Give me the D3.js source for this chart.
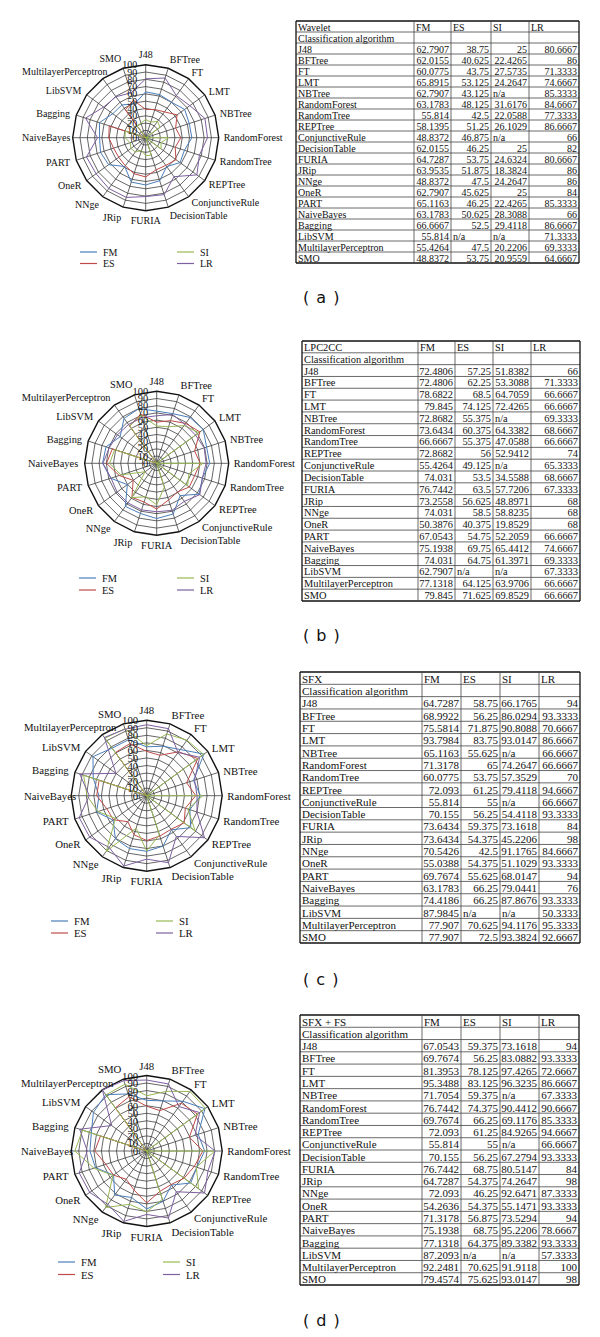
<!DOCTYPE html>
<html><head><meta charset="utf-8">
<script src="https://cdn.jsdelivr.net/npm/d3@7"></script>
<style>body{margin:0;background:#fff} svg{display:block}</style>
</head><body><svg id="chart" width="600" height="1337"></svg>
<script>
const categories = ["J48","BFTree","FT","LMT","NBTree","RandomForest","RandomTree","REPTree","ConjunctiveRule","DecisionTable","FURIA","JRip","NNge","OneR","PART","NaiveBayes","Bagging","LibSVM","MultilayerPerceptron","SMO"];
const seriesNames = ["FM","ES","SI","LR"];
const ringTicks = [0,10,20,30,40,50,60,70,80,90,100];
const tableTitles = ["Wavelet","LPC2CC","SFX","SFX + FS"];
const panelLabels = ["( a )","( b )","( c )","( d )"];
const rowHeader = "Classification algorithm";

const waveletFM = [62.7907,62.0155,60.0775,65.8915,62.7907,63.1783,55.814,58.1395,48.8372,62.0155,64.7287,63.9535,48.8372,62.7907,65.1163,63.1783,66.6667,55.814,55.4264,48.8372];
const waveletES = [38.75,40.625,43.75,53.125,43.125,48.125,42.5,51.25,46.875,46.25,53.75,51.875,47.5,45.625,46.25,50.625,52.5,null,47.5,53.75];
const waveletSI = [25,22.4265,27.5735,24.2647,null,31.6176,22.0588,26.1029,null,25,24.6324,18.3824,24.2647,25,22.4265,28.3088,29.4118,null,20.2206,20.9559];
const waveletLR = [80.6667,86,71.3333,74.6667,85.3333,84.6667,77.3333,86.6667,66,82,80.6667,86,86,84,85.3333,66,86.6667,71.3333,69.3333,64.6667];

const lpcFM = [72.4806,72.4806,78.6822,79.845,72.8682,73.6434,66.6667,72.8682,55.4264,74.031,76.7442,73.2558,74.031,50.3876,67.0543,75.1938,74.031,62.7907,77.1318,79.845];
const lpcES = [57.25,62.25,68.5,74.125,55.375,60.375,55.375,56,49.125,53.5,63.5,56.625,58.5,40.375,54.75,69.75,64.75,null,64.125,71.625];
const lpcSI = [51.8382,53.3088,64.7059,72.4265,null,64.3382,47.0588,52.9412,null,34.5588,57.7206,48.8971,58.8235,19.8529,52.2059,65.4412,61.3971,null,63.9706,69.8529];
const lpcLR = [66,71.3333,66.6667,66.6667,69.3333,68.6667,66.6667,74,65.3333,68.6667,67.3333,68,68,68,66.6667,74.6667,69.3333,67.3333,66.6667,66.6667];

const sfxFM = [64.7287,68.9922,75.5814,93.7984,65.1163,71.3178,60.0775,72.093,55.814,70.155,73.6434,73.6434,70.5426,55.0388,69.7674,63.1783,74.4186,87.9845,77.907,77.907];
const sfxES = [58.75,56.25,71.875,83.75,55.625,65,53.75,61.25,55,56.25,59.375,54.375,42.5,54.375,55.625,66.25,66.25,null,70.625,72.5];
const sfxSI = [66.1765,86.0294,90.8088,93.0147,null,74.2647,57.3529,79.4118,null,54.4118,73.1618,45.2206,91.1765,51.1029,68.0147,79.0441,87.8676,null,94.1176,93.3824];
const sfxLR = [94,93.3333,70.6667,86.6667,66.6667,66.6667,70,94.6667,66.6667,93.3333,84,98,84.6667,93.3333,94,76,93.3333,50.3333,95.3333,92.6667];

const sfxfsFM = [67.0543,69.7674,81.3953,95.3488,71.7054,76.7442,69.7674,72.093,55.814,70.155,76.7442,64.7287,72.093,54.2636,71.3178,75.1938,77.1318,87.2093,92.2481,79.4574];
const sfxfsES = [59.375,56.25,78.125,83.125,59.375,74.375,66.25,61.25,55,56.25,68.75,54.375,46.25,54.375,56.875,68.75,64.375,null,70.625,75.625];
const sfxfsSI = [73.1618,83.0882,97.4265,96.3235,null,90.4412,69.1176,84.9265,null,67.2794,80.5147,74.2647,92.6471,55.1471,73.5294,95.2206,89.3382,null,91.9118,93.0147];
const sfxfsLR = [94,93.3333,72.6667,86.6667,67.3333,90.6667,85.3333,94.6667,66.6667,93.3333,84,98,87.3333,93.3333,94,78.6667,93.3333,57.3333,100,98];

const panelSeries = [
  [waveletFM, waveletES, waveletSI, waveletLR],
  [lpcFM, lpcES, lpcSI, lpcLR],
  [sfxFM, sfxES, sfxSI, sfxLR],
  [sfxfsFM, sfxfsES, sfxfsSI, sfxfsLR]
];

// ---- layout / style (not data) ----
const colors = ["#4A7EBB","#BE4B48","#98B954","#7D60A0"];
const serif = "'Liberation Serif','Times New Roman',serif";
const layouts = [
  {cx:145.7, cy:137.7, R:73, fs:10, minX:22, leg:{x1:80,x2:177,y:252,gap:11.5},
   tab:{cols:[296,414,451,491,529,579], top:21, bottom:263, fs:10}, lab:{x:303,y:303}},
  {cx:156.7, cy:463.3, R:72, fs:10.4, minX:21, leg:{x1:79,x2:177,y:578,gap:12},
   tab:{cols:[302,418,455,493,531,580], top:341, bottom:601, fs:10.4}, lab:{x:303,y:641}},
  {cx:146.7, cy:795.7, R:75.5, fs:10.8, minX:24, leg:{x1:51,x2:156,y:921,gap:12},
   tab:{cols:[300,422,461,500,539,580], top:672, bottom:943, fs:11}, lab:{x:303,y:985}},
  {cx:146.7, cy:1151, R:75.5, fs:10.8, minX:21, leg:{x1:58,x2:163,y:1262,gap:12.5},
   tab:{cols:[300,422,461,500,539,579], top:1015, bottom:1285, fs:11}, lab:{x:303,y:1326}}
];

const svg = d3.select("#chart");
const fmt = v => v == null ? "n/a" : String(v);

panelSeries.forEach((series, p) => {
  const L = layouts[p];
  const g = svg.append("g").attr("transform", `translate(${L.cx},${L.cy})`);
  const r = d3.scaleLinear().domain([0,100]).range([0, L.R]);
  const ang = d3.scaleLinear().domain([0, categories.length]).range([0, 2*Math.PI]);
  const pt = (i, v) => [Math.sin(ang(i))*r(v), -Math.cos(ang(i))*r(v)];

  // rings
  ringTicks.filter(t => t > 0).forEach(t => {
    g.append("path")
      .attr("d", d3.line()(categories.map((c,i)=>pt(i,t))) + "Z")
      .attr("fill","none")
      .attr("stroke", t === 100 ? "#111" : "#333")
      .attr("stroke-width", t === 100 ? 1.4 : 0.75);
  });
  // spokes
  categories.forEach((c,i) => {
    const [x,y] = pt(i,100);
    g.append("line").attr("x1",0).attr("y1",0).attr("x2",x).attr("y2",y)
      .attr("stroke","#333").attr("stroke-width",0.75);
  });
  // series
  const radial = d3.lineRadial()
    .angle((d,i)=>ang(i))
    .radius(d=>r(d == null ? 0 : d))
    .curve(d3.curveLinearClosed);
  series.forEach((vals, s) => {
    g.append("path").attr("d", radial(vals)).attr("fill","none")
      .attr("stroke", colors[s]).attr("stroke-width",1);
  });
  // tick labels
  ringTicks.forEach(t => {
    g.append("text").attr("x",-8.5).attr("y",-r(t))
      .attr("text-anchor","end").attr("dominant-baseline","central")
      .attr("font-family",serif).attr("font-size",L.fs).attr("fill","#111")
      .text(t);
  });
  // category labels
  categories.forEach((c,i) => {
    const a = ang(i), s = Math.sin(a), co = Math.cos(a);
    const off = s < -0.01 ? 6.5 : 5;
    let x = (L.R+off)*s;
    const y = -(L.R+off)*co - Math.sign(co)*Math.pow(co,4)*5;
    const anchor = Math.abs(s) < 0.01 ? "middle" : (s > 0 ? "start" : "end");
    const t = g.append("text").attr("x",x).attr("y",y)
      .attr("text-anchor",anchor).attr("dominant-baseline","central")
      .attr("font-family",serif).attr("font-size",L.fs).attr("fill","#111")
      .text(c);
    if (anchor === "end") {
      const w = t.node().getComputedTextLength();
      if (L.cx + x - w < L.minX) {
        t.attr("text-anchor","start").attr("x", L.minX - L.cx);
      }
    }
  });

  // legend
  seriesNames.forEach((n, s) => {
    const lx = s < 2 ? L.leg.x1 : L.leg.x2;
    const ly = L.leg.y + (s % 2) * L.leg.gap;
    svg.append("line").attr("x1",lx).attr("x2",lx+17).attr("y1",ly).attr("y2",ly)
      .attr("stroke",colors[s]).attr("stroke-width",1.2);
    svg.append("text").attr("x",lx+23).attr("y",ly)
      .attr("dominant-baseline","central").attr("font-family",serif)
      .attr("font-size",L.fs).attr("fill","#111").text(n);
  });

  // table
  const T = L.tab;
  const nRows = categories.length + 2;
  const row = d3.scaleBand().domain(d3.range(nRows)).range([T.top, T.bottom]);
  const tg = svg.append("g");
  const textAt = (col, ri, txt, alignRight) => {
    tg.append("text")
      .attr("x", alignRight ? T.cols[col+1]-2 : T.cols[col]+2)
      .attr("y", row(ri) + row.bandwidth()/2 + 0.5)
      .attr("text-anchor", alignRight ? "end" : "start")
      .attr("dominant-baseline","central")
      .attr("font-family",serif).attr("font-size",T.fs).attr("fill","#111")
      .text(txt);
  };
  textAt(0, 0, tableTitles[p], false);
  seriesNames.forEach((n,s) => textAt(s+1, 0, n, false));
  textAt(0, 1, rowHeader, false);
  categories.forEach((c,i) => {
    textAt(0, i+2, c, false);
    series.forEach((vals, s) => {
      const v = vals[i];
      textAt(s+1, i+2, fmt(v), v != null);
    });
  });
  // grid lines
  d3.range(nRows+1).forEach(k => {
    const y = k === nRows ? T.bottom : row(k);
    tg.append("line").attr("x1",T.cols[0]).attr("x2",T.cols[5]).attr("y1",y).attr("y2",y)
      .attr("stroke", (k===0||k===nRows) ? "#111" : "#444")
      .attr("stroke-width", (k===0||k===nRows) ? 1.3 : 0.8);
  });
  T.cols.forEach((x,k) => {
    tg.append("line").attr("x1",x).attr("x2",x).attr("y1",T.top).attr("y2",T.bottom)
      .attr("stroke", (k===0||k===5) ? "#111" : "#444")
      .attr("stroke-width", (k===0||k===5) ? 1.3 : 0.8);
  });

  // panel label
  svg.append("text").attr("x",L.lab.x).attr("y",L.lab.y)
    .attr("font-family","'DejaVu Sans',sans-serif").attr("font-size",16)
    .attr("letter-spacing",1).attr("fill","#111").text(panelLabels[p]);
});
</script>
</body></html>
